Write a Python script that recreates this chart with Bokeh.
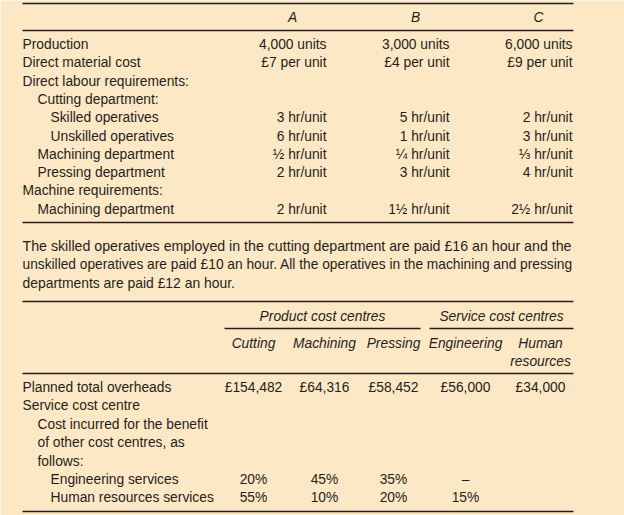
from bokeh.plotting import figure
from bokeh.models import ColumnDataSource, Range1d
from bokeh.core.properties import value
from bokeh.embed import file_html
from bokeh.resources import INLINE

# ---------------- data ----------------
products = ["A", "B", "C"]
row_labels = ["Production", "Direct material cost", "Direct labour requirements:",
              "Cutting department:", "Skilled operatives", "Unskilled operatives",
              "Machining department", "Pressing department", "Machine requirements:",
              "Machining department"]
row_indent = [0, 0, 0, 1, 2, 2, 1, 1, 0, 1]
production = ["4,000 units", "3,000 units", "6,000 units"]
material_cost = ["£7 per unit", "£4 per unit", "£9 per unit"]
skilled_hours = ["3 hr/unit", "5 hr/unit", "2 hr/unit"]
unskilled_hours = ["6 hr/unit", "1 hr/unit", "3 hr/unit"]
machining_labour = ["½ hr/unit", "¼ hr/unit", "⅓ hr/unit"]
pressing_labour = ["2 hr/unit", "3 hr/unit", "4 hr/unit"]
machine_hours = ["2 hr/unit", "1½ hr/unit", "2½ hr/unit"]
row_values = [production, material_cost, None, None, skilled_hours, unskilled_hours,
              machining_labour, pressing_labour, None, machine_hours]

paragraph = [
    "The skilled operatives employed in the cutting department are paid £16 an hour and the",
    "unskilled operatives are paid £10 an hour. All the operatives in the machining and pressing",
    "departments are paid £12 an hour.",
]
paragraph_sizes = ["14.2px", "13.75px", "13.9px"]

group_headers = ["Product cost centres", "Service cost centres"]
centres = ["Cutting", "Machining", "Pressing", "Engineering", "Human"]
centres_line2 = ["", "", "", "", "resources"]
overheads = ["£154,482", "£64,316", "£58,452", "£56,000", "£34,000"]
lower_labels = ["Planned total overheads", "Service cost centre",
                "Cost incurred for the benefit", "of other cost centres, as",
                "follows:", "Engineering services", "Human resources services"]
lower_indent = [0, 0, 1, 1, 1, 2, 2]
engineering_share = ["20%", "45%", "35%", "–"]
hr_share = ["55%", "10%", "20%", "15%"]
lower_values = [overheads, None, None, None, None, engineering_share, hr_share]

# ---------------- layout ----------------
BG = "#FDE8C5"
INK = "#231F20"
FONT = value("Liberation Sans")

p = figure(width=624, height=515, output_backend="svg", toolbar_location=None,
           x_range=Range1d(0, 624), y_range=Range1d(515, 0),
           min_border=0, background_fill_color=BG, border_fill_color=BG)
p.axis.visible = False
p.grid.visible = False
p.outline_line_color = None

LEFT, RIGHT = 22, 573
indent_x = [22, 37, 50]

xs, ys, ts, aligns, styles, sizes = [], [], [], [], [], []

def add(x, y, t, align="left", style="normal", size="13.8px"):
    xs.append(x); ys.append(y); ts.append(t); aligns.append(align)
    styles.append(style); sizes.append(size)

# top table
col_right = [326, 449, 572]
for j, name in enumerate(products):
    add(col_right[j] - 34, 17, name, "center", "italic")
row_y0, row_step = 44, 18.3
for i, lab in enumerate(row_labels):
    y = row_y0 + i * row_step
    add(indent_x[row_indent[i]], y, lab)
    vals = row_values[i]
    if vals is not None:
        for j, v in enumerate(vals):
            add(col_right[j], y, v, "right")

# paragraph
for k, line in enumerate(paragraph):
    add(LEFT, 245 + k * 18.5, line, size=paragraph_sizes[k])

# lower table
centre_x = [253, 324, 393, 465, 540]
add(322, 316, group_headers[0], "center", "italic")
add(501, 316, group_headers[1], "center", "italic")
for j, c in enumerate(centres):
    add(centre_x[j], 343, c, "center", "italic")
    if centres_line2[j]:
        add(centre_x[j], 361, centres_line2[j], "center", "italic")
low_y0, low_step = 387, 18.4
for i, lab in enumerate(lower_labels):
    y = low_y0 + i * low_step
    add(indent_x[lower_indent[i]], y, lab)
    vals = lower_values[i]
    if vals is not None:
        for j, v in enumerate(vals):
            add(centre_x[j], y, v, "center")

src = ColumnDataSource(dict(x=xs, y=ys, text=ts, align=aligns, style=styles, size=sizes))
p.text(x="x", y="y", text="text", source=src, text_align="align",
       text_font_style="style", text_baseline="middle", text_font=FONT,
       text_font_size="size", text_color=INK)

# rules
rules_x0 = [LEFT, LEFT, LEFT, LEFT, 224, 429, LEFT, LEFT]
rules_x1 = [RIGHT, RIGHT, RIGHT, RIGHT, 420, RIGHT, RIGHT, RIGHT]
rules_y = [3, 30, 222, 301, 328, 328, 373, 511]
p.segment(x0=rules_x0, y0=rules_y, x1=rules_x1, y1=rules_y,
          line_color=INK, line_width=1.3)

open("out.html", "w").write(file_html(p, INLINE))
